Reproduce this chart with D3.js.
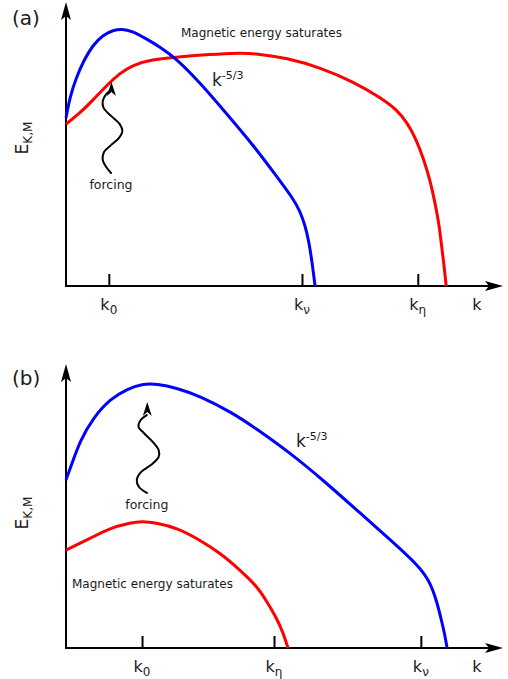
<!DOCTYPE html>
<html>
<head>
<meta charset="utf-8">
<script src="https://cdnjs.cloudflare.com/ajax/libs/d3/7.8.5/d3.min.js"></script>
<style>
  body { margin: 0; background: #fff; }
  text { font-family: "DejaVu Sans", sans-serif; fill: #1a1a1a; }
</style>
</head>
<body>
<div id="chart"></div>
<script>
// Spectra, in % of the axis length: [k, E]
var blueA = [[0,59.2],[0.9,66.5],[2.3,73.2],[4.1,79.6],[6.2,84.9],[8.5,88.4],[10.8,90.1],[12.8,90.5],
  [15.1,89.8],[18.1,87.3],[21.5,84.2],[25.4,79.9],[30.7,71.5],[36.4,61.3],[43.0,49.3],[47.8,39.4],
  [52.2,30.3],[53.5,26.4],[54.7,21.5],[55.6,15.5],[56.3,8.5],[57.0,0]];
var redA = [[0,57.0],[3.2,60.9],[6.2,65.5],[9.4,70.8],[12.4,75.0],[15.3,77.8],[19.2,79.6],[25.4,80.6],
  [30.7,81.3],[38.2,82.0],[43.0,82.0],[50.6,80.3],[58.4,76.8],[65.9,71.8],[72.1,66.2],[75.7,62.0],
  [78.0,57.7],[80.1,51.8],[81.9,44.4],[83.3,37.3],[84.4,29.6],[85.4,21.5],[86.0,13.4],[86.5,7.4],[87.0,0]];
var blueB = [[0,59.2],[1.4,65.1],[3.2,72.9],[6.2,81.0],[10.1,87.7],[14.0,91.2],[17.4,93.0],[20.8,93.0],
  [25.4,91.5],[30.7,88.7],[38.2,82.7],[43.0,77.8],[51.3,68.7],[59.3,58.5],[67.3,47.5],[74.8,37.3],
  [81.0,28.5],[83.3,23.2],[84.9,16.2],[86.0,9.2],[86.7,4.6],[87.2,0]];
var redB = [[0,34.5],[4.8,38.0],[10.1,42.3],[14.6,44.0],[17.4,44.7],[20.8,44.0],[25.4,42.3],[30.7,38.0],
  [35.2,33.5],[39.8,27.5],[43.7,21.8],[46.2,15.8],[48.3,10.2],[49.7,5.3],[50.8,0]];

// Wavy "forcing" arrows (last point is the arrow tip)
var forcingA = [[10.3,39.8],[9.2,41.9],[8.4,44.4],[8.7,47.2],[10.3,49.6],[12.1,52.1],[12.9,54.6],
  [12.3,57.0],[10.3,59.9],[8.6,62.7],[8.4,65.1],[9.2,67.6],[10.3,69.0],[10.4,71.8]];
var forcingB = [[18.5,54.6],[16.7,56.7],[16.2,59.2],[17.2,62.0],[19.4,64.4],[21.2,67.3],[21.2,69.7],
  [19.9,72.5],[17.8,75.7],[16.6,77.8],[17.1,80.3],[18.5,82.0],[18.6,86.6]];

// Tick positions and their subscripts
var ticksA = [9.8, 54.0, 80.5];
var subsA = ["0", "ν", "η"];
var ticksB = [17.4, 47.6, 81.2];
var subsB = ["0", "η", "ν"];

var svg = d3.select("#chart").append("svg")
  .attr("width", 508)
  .attr("height", 679);

var x = d3.scaleLinear().domain([0, 100]).range([66, 503]);

function arrowHead(g, px, py, angle, len, half, notch) {
  g.append("path")
    .attr("d", "M0,0L" + (-len) + "," + (-half) + "L" + (-notch) + ",0L" + (-len) + "," + half + "Z")
    .attr("transform", "translate(" + px + "," + py + ") rotate(" + angle + ")")
    .attr("fill", "#000");
}

function drawPanel(p) {
  var y = d3.scaleLinear().domain([0, 100]).range([p.bottom, p.top]);
  var g = svg.append("g");

  // ticks (pointing up)
  var ax = g.append("g")
    .attr("transform", "translate(0," + y(0) + ")")
    .call(d3.axisBottom(x).tickValues(p.ticks).tickSizeInner(-12).tickSizeOuter(0).tickFormat(""));
  ax.select(".domain").remove();
  ax.selectAll(".tick line").attr("stroke", "#000").attr("stroke-width", 2);

  // axes
  g.append("path")
    .attr("d", "M" + x(0) + "," + (y(100) + 12) + "V" + y(0) + "H" + (x(100) - 12))
    .attr("fill", "none")
    .attr("stroke", "#000")
    .attr("stroke-width", 2);
  arrowHead(g, x(100), y(0), 0, 18, 5, 14);
  arrowHead(g, x(0), y(100), -90, 18, 5, 14);

  // tick labels
  p.ticks.forEach(function(t, i) {
    var lab = g.append("text")
      .attr("x", x(t))
      .attr("y", y(0) + 24)
      .attr("text-anchor", "middle")
      .style("font-size", "16px");
    lab.append("tspan").text("k");
    lab.append("tspan").attr("dy", 4).style("font-size", "12px").text(p.subs[i]);
  });
  g.append("text")
    .attr("x", 477)
    .attr("y", y(0) + 24)
    .attr("text-anchor", "middle")
    .style("font-size", "16px")
    .text("k");

  // y label
  var ylab = g.append("text")
    .attr("transform", "translate(28," + p.eY + ") rotate(-90)")
    .attr("text-anchor", "middle")
    .style("font-size", "17px");
  ylab.append("tspan").text("E");
  ylab.append("tspan").attr("dy", 4).style("font-size", "12px").text("K,M");

  // panel letter
  g.append("text")
    .attr("x", 12)
    .attr("y", p.letterY)
    .style("font-size", "20px")
    .text(p.letter);

  var spectrum = d3.line()
    .x(function(d) { return x(d[0]); })
    .y(function(d) { return y(d[1]); })
    .curve(d3.curveBasis);
  var wave = d3.line()
    .x(function(d) { return x(d[0]); })
    .y(function(d) { return y(d[1]); })
    .curve(d3.curveCatmullRom.alpha(0.5));

  g.append("path").datum(p.red)
    .attr("fill", "none").attr("stroke", "#ff0000").attr("stroke-width", 3)
    .attr("d", spectrum);
  g.append("path").datum(p.blue)
    .attr("fill", "none").attr("stroke", "#0000ff").attr("stroke-width", 3)
    .attr("d", spectrum);

  // forcing arrow
  var tip = p.forcing[p.forcing.length - 1];
  g.append("path").datum(p.forcing.slice(0, -1))
    .attr("fill", "none").attr("stroke", "#000").attr("stroke-width", 2)
    .attr("stroke-linecap", "round")
    .attr("d", wave);
  arrowHead(g, x(tip[0]), y(tip[1]), -90, 14, 4.5, 10);
  g.append("text")
    .attr("x", x(p.forcing[0][0]))
    .attr("y", p.forcingY)
    .attr("text-anchor", "middle")
    .style("font-size", "12.5px")
    .text("forcing");

  // annotations
  g.append("text")
    .attr("x", p.magX)
    .attr("y", p.magY)
    .style("font-size", "12px")
    .text("Magnetic energy saturates");

  var kl = g.append("text")
    .attr("x", p.slopeX)
    .attr("y", p.slopeY)
    .style("font-size", "17px");
  kl.append("tspan").text("k");
  kl.append("tspan").attr("dy", -7).style("font-size", "11px").text("-5/3");
}

drawPanel({top: 2, bottom: 286, ticks: ticksA, subs: subsA, blue: blueA, red: redA,
  forcing: forcingA, forcingY: 189, eY: 138, letter: "(a)", letterY: 25,
  magX: 181, magY: 37, slopeX: 212, slopeY: 86});
drawPanel({top: 364, bottom: 648, ticks: ticksB, subs: subsB, blue: blueB, red: redB,
  forcing: forcingB, forcingY: 509, eY: 513, letter: "(b)", letterY: 385,
  magX: 72, magY: 588, slopeX: 296, slopeY: 447});
</script>
</body>
</html>
